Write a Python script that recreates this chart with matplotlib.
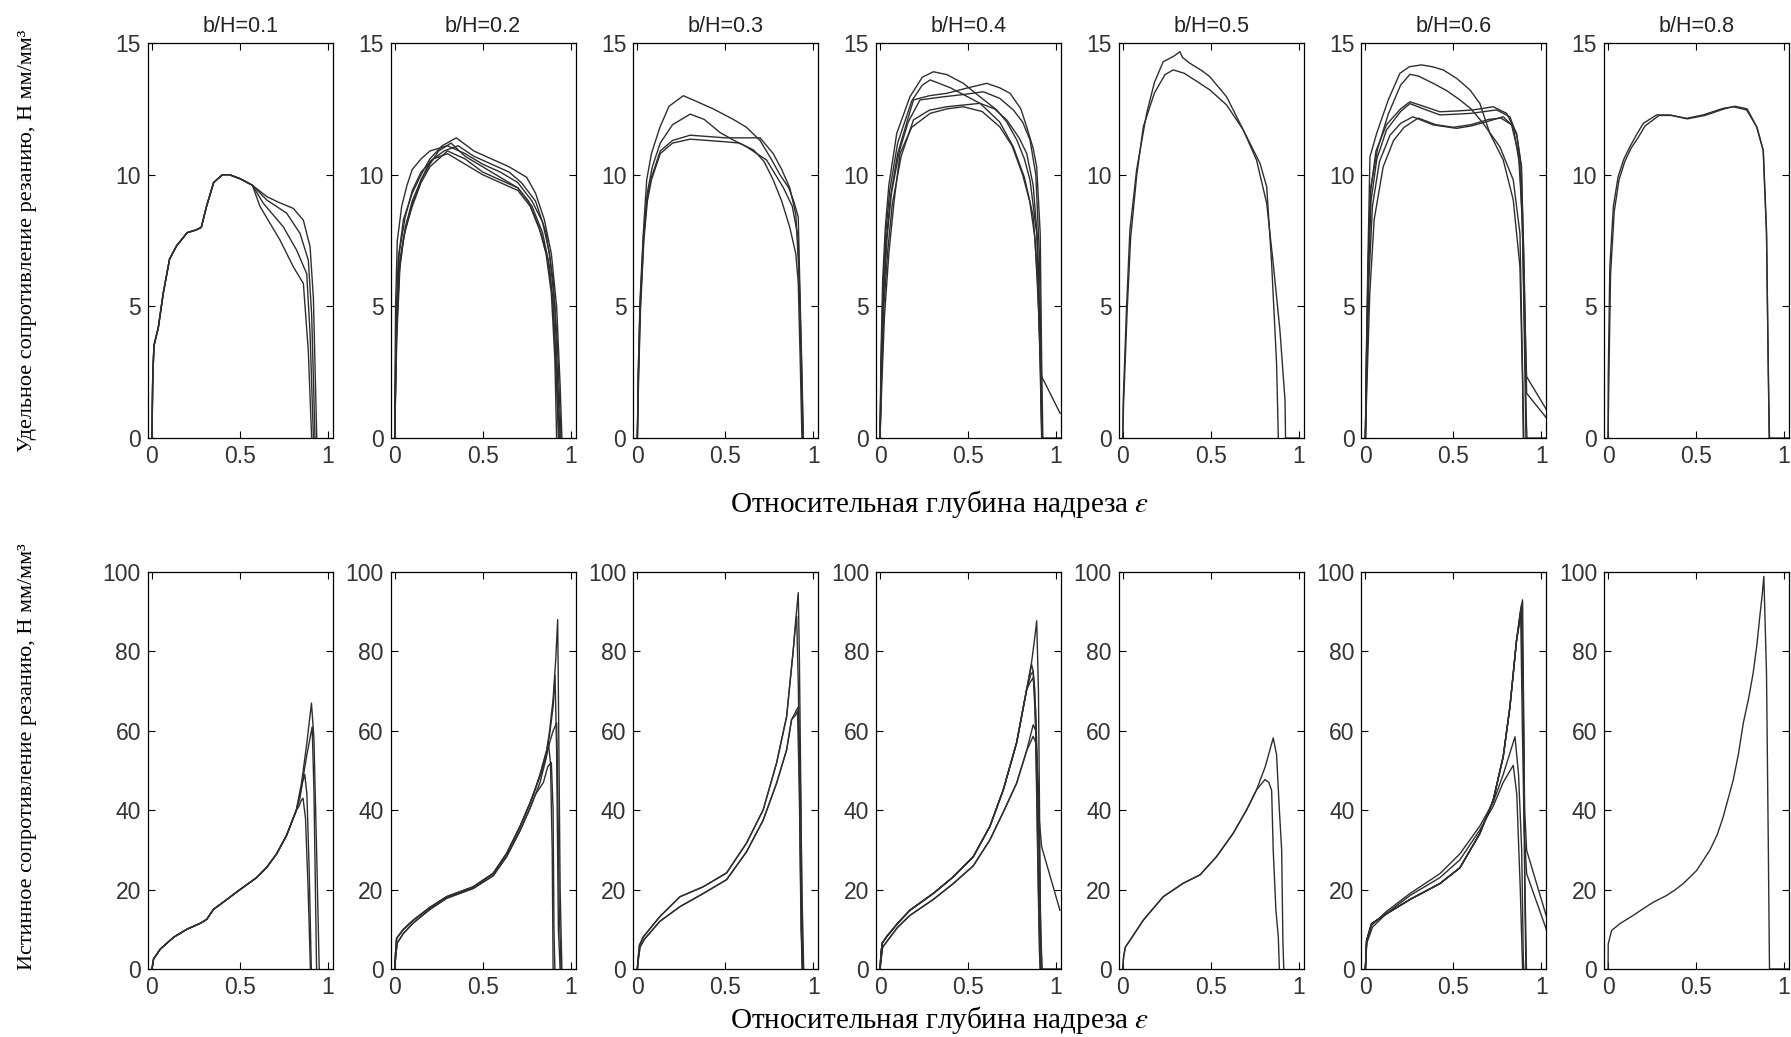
import matplotlib
matplotlib.use('Agg')
import matplotlib.pyplot as plt

plt.rcParams['font.family'] = ['Liberation Sans', 'DejaVu Sans']
plt.rcParams['mathtext.fontset'] = 'stix'

# panel titles (b/H ratios)
ratios = ['0.1', '0.2', '0.3', '0.4', '0.5', '0.6', '0.8']

# ---- top row: specific cutting resistance, each curve = (eps, value) ----
pre01_x = [0.0, 0.004, 0.011, 0.036, 0.064, 0.10, 0.14, 0.20, 0.25, 0.28, 0.31, 0.35, 0.40, 0.44, 0.50, 0.57]
pre01_y = [0.0, 2.2, 3.5, 4.2, 5.5, 6.8, 7.3, 7.8, 7.9, 8.0, 8.8, 9.7, 10.0, 10.0, 9.85, 9.6]
TOP_01 = [
    (pre01_x + [0.652, 0.72, 0.803, 0.86, 0.898, 0.917, 0.936], pre01_y + [9.17, 8.95, 8.72, 8.27, 7.27, 5.3, 0]),
    (pre01_x + [0.652, 0.765, 0.841, 0.888, 0.907, 0.926], pre01_y + [9.04, 8.54, 7.77, 6.76, 4.7, 0]),
    (pre01_x + [0.633, 0.746, 0.822, 0.879, 0.898, 0.917], pre01_y + [8.91, 8.02, 7.13, 6.24, 3.96, 0]),
    (pre01_x + [0.614, 0.727, 0.803, 0.86, 0.888, 0.907], pre01_y + [8.79, 7.52, 6.5, 5.87, 3.3, 0]),
]
TOP_02 = [
    ([0, 0.008, 0.02, 0.05, 0.1, 0.15, 0.2, 0.27, 0.35, 0.45, 0.55, 0.65, 0.75, 0.8, 0.85, 0.89, 0.92, 0.94, 0.95],
     [0, 4.5, 6.8, 8.3, 9.3, 10.0, 10.6, 11.1, 11.4, 10.9, 10.6, 10.3, 9.9, 9.3, 8.3, 7.0, 5.0, 2.0, 0]),
    ([0, 0.005, 0.015, 0.04, 0.07, 0.1, 0.15, 0.2, 0.3, 0.4, 0.5, 0.6, 0.7, 0.78, 0.84, 0.88, 0.91, 0.93, 0.94],
     [0, 5, 7.5, 8.8, 9.6, 10.2, 10.6, 10.9, 11.1, 10.8, 10.4, 10.1, 9.7, 9.0, 8.2, 7.0, 5.0, 1.5, 0]),
    ([0, 0.01, 0.02, 0.05, 0.1, 0.15, 0.2, 0.25, 0.32, 0.4, 0.5, 0.6, 0.7, 0.78, 0.84, 0.88, 0.9, 0.92, 0.93],
     [0, 3.5, 6.0, 7.6, 8.9, 9.8, 10.4, 10.9, 11.2, 10.7, 10.3, 9.9, 9.5, 8.8, 7.8, 6.5, 5.0, 2.0, 0]),
    ([0, 0.01, 0.03, 0.06, 0.1, 0.15, 0.2, 0.3, 0.4, 0.5, 0.6, 0.7, 0.76, 0.82, 0.86, 0.89, 0.91, 0.92],
     [0, 4.0, 6.8, 7.9, 8.8, 9.7, 10.3, 10.9, 10.6, 10.1, 9.8, 9.5, 9.0, 8.0, 7.0, 5.5, 3.0, 0]),
    ([0, 0.008, 0.025, 0.06, 0.1, 0.15, 0.22, 0.3, 0.4, 0.5, 0.6, 0.7, 0.77, 0.83, 0.87, 0.9, 0.92, 0.935],
     [0, 4.2, 7.0, 8.4, 9.4, 10.1, 10.6, 10.8, 10.4, 10.0, 9.7, 9.4, 8.8, 7.8, 6.8, 5.2, 2.5, 0]),
    ([0, 0.012, 0.03, 0.06, 0.1, 0.15, 0.2, 0.28, 0.36, 0.45, 0.55, 0.65, 0.72, 0.8, 0.86, 0.9, 0.925, 0.945],
     [0, 3.8, 6.5, 8.0, 9.0, 9.8, 10.5, 10.9, 11.1, 10.7, 10.4, 10.1, 9.7, 9.0, 7.8, 6.0, 3.5, 0]),
]
TOP_03 = [
    ([0, 0.005, 0.015, 0.034, 0.053, 0.08, 0.128, 0.18, 0.261, 0.33, 0.431, 0.545, 0.62, 0.697, 0.76, 0.81, 0.86, 0.888, 0.914, 0.925, 0.935, 0.943],
     [0, 2.5, 5.2, 7.8, 9.8, 10.8, 11.8, 12.6, 13.0, 12.8, 12.5, 12.1, 11.8, 11.3, 10.6, 10.0, 9.5, 9.0, 8.4, 5.2, 2.5, 0]),
    ([0, 0.006, 0.017, 0.036, 0.056, 0.085, 0.13, 0.2, 0.3, 0.38, 0.47, 0.55, 0.62, 0.734, 0.83, 0.88, 0.914, 0.925, 0.94],
     [0, 2.3, 5.0, 7.6, 9.3, 10.3, 11.2, 11.9, 12.3, 12.1, 11.6, 11.3, 11.06, 10.56, 9.5, 8.8, 7.6, 4.5, 0]),
    ([0, 0.005, 0.016, 0.035, 0.055, 0.08, 0.13, 0.2, 0.3, 0.4, 0.5, 0.6, 0.697, 0.772, 0.82, 0.866, 0.9, 0.92, 0.932, 0.942],
     [0, 2.4, 5.1, 7.7, 9.1, 9.9, 10.9, 11.3, 11.5, 11.45, 11.4, 11.4, 11.4, 10.8, 10.2, 9.5, 8.5, 6.0, 3.0, 0]),
    ([0, 0.007, 0.018, 0.037, 0.057, 0.08, 0.13, 0.2, 0.3, 0.4, 0.5, 0.58, 0.66, 0.72, 0.772, 0.82, 0.866, 0.9, 0.914, 0.925, 0.935],
     [0, 2.2, 4.9, 7.5, 9.0, 9.8, 10.8, 11.2, 11.35, 11.3, 11.25, 11.2, 10.94, 10.5, 9.8, 9.0, 8.0, 7.0, 5.9, 3.0, 0]),
]
TOP_04 = [
    ([0, 0.005, 0.015, 0.03, 0.05, 0.095, 0.17, 0.24, 0.303, 0.38, 0.473, 0.56, 0.663, 0.72, 0.777, 0.82, 0.852, 0.89, 0.905, 0.919],
     [0, 3, 6, 8, 9.6, 11.57, 12.96, 13.7, 13.91, 13.8, 13.47, 13.0, 12.46, 12.0, 11.32, 10.6, 9.8, 7.77, 4.0, 0]),
    ([0, 0.006, 0.017, 0.033, 0.055, 0.1, 0.18, 0.24, 0.285, 0.4, 0.568, 0.68, 0.757, 0.82, 0.871, 0.895, 0.91, 0.92],
     [0, 2.8, 5.7, 7.8, 9.4, 11.2, 12.8, 13.4, 13.6, 13.3, 12.71, 12.0, 11.06, 9.9, 8.4, 6.0, 3.0, 0]),
    ([0, 0.007, 0.02, 0.035, 0.06, 0.1, 0.19, 0.28, 0.379, 0.5, 0.606, 0.68, 0.739, 0.8, 0.833, 0.87, 0.89, 0.91, 0.918, 0.925],
     [0, 2.5, 5.5, 7.5, 9.2, 10.8, 12.84, 13.0, 13.09, 13.3, 13.47, 13.3, 13.09, 12.5, 11.82, 11.0, 10.3, 7.77, 3.0, 0]),
    ([0, 0.006, 0.02, 0.04, 0.065, 0.11, 0.16, 0.227, 0.35, 0.48, 0.587, 0.68, 0.757, 0.81, 0.852, 0.885, 0.905, 0.915, 0.92],
     [0, 2.4, 5.3, 7.6, 9.3, 10.9, 12.0, 12.84, 12.95, 13.05, 13.15, 12.9, 12.46, 12.0, 11.32, 10.0, 7.0, 3.0, 0]),
    ([0, 0.008, 0.022, 0.045, 0.07, 0.12, 0.19, 0.28, 0.379, 0.48, 0.568, 0.65, 0.72, 0.79, 0.833, 0.87, 0.895, 0.91, 0.918, 1.03],
     [0, 2.2, 5.0, 7.2, 8.9, 10.7, 12.08, 12.45, 12.58, 12.65, 12.71, 12.5, 12.08, 11.4, 10.81, 9.6, 7.5, 4.0, 0, 0]),
    ([0, 0.01, 0.025, 0.05, 0.08, 0.114, 0.18, 0.285, 0.38, 0.473, 0.58, 0.68, 0.75, 0.81, 0.85, 0.88, 0.9, 0.915, 0.919, 1.023],
     [0, 2.0, 4.6, 7.0, 9.0, 10.81, 11.8, 12.33, 12.5, 12.58, 12.4, 11.82, 11.1, 10.0, 9.0, 7.6, 5.0, 2.5, 2.33, 0.94]),
]
TOP_05 = [
    ([0, 0.003, 0.022, 0.041, 0.079, 0.136, 0.18, 0.23, 0.29, 0.325, 0.34, 0.382, 0.45, 0.495, 0.59, 0.685, 0.76, 0.818, 0.855, 0.893, 0.922, 0.925, 1.0],
     [0, 1.44, 4.99, 7.9, 10.18, 12.33, 13.5, 14.29, 14.5, 14.67, 14.45, 14.23, 13.95, 13.72, 12.96, 11.7, 10.56, 8.91, 6.63, 4.1, 1.44, 0, 0]),
    ([0, 0.005, 0.025, 0.045, 0.08, 0.117, 0.18, 0.24, 0.287, 0.35, 0.42, 0.495, 0.59, 0.685, 0.78, 0.818, 0.846, 0.874, 0.884],
     [0, 1.3, 4.8, 7.6, 10.0, 11.82, 13.1, 13.8, 13.98, 13.85, 13.55, 13.22, 12.65, 11.7, 10.43, 9.54, 6.63, 2.84, 0]),
]
TOP_06 = [
    ([0, 0.005, 0.015, 0.026, 0.064, 0.13, 0.196, 0.25, 0.319, 0.38, 0.442, 0.518, 0.594, 0.65, 0.707, 0.783, 0.84, 0.878, 0.893, 0.897],
     [0, 3, 7, 10.68, 11.57, 12.84, 13.85, 14.1, 14.17, 14.1, 13.98, 13.66, 13.22, 12.71, 11.57, 10.56, 9.04, 6.5, 2.08, 0]),
    ([0, 0.006, 0.016, 0.03, 0.07, 0.13, 0.2, 0.253, 0.3, 0.385, 0.46, 0.537, 0.6, 0.669, 0.764, 0.84, 0.878, 0.9],
     [0, 2.8, 6.5, 9.5, 11.0, 12.3, 13.4, 13.81, 13.75, 13.47, 13.2, 12.84, 12.5, 11.95, 11.06, 9.8, 7.77, 0]),
    ([0, 0.006, 0.015, 0.03, 0.06, 0.12, 0.2, 0.253, 0.33, 0.423, 0.52, 0.613, 0.726, 0.802, 0.859, 0.887, 0.9, 0.912, 0.916, 1.03],
     [0, 3, 6.5, 9.4, 10.9, 11.9, 12.5, 12.77, 12.6, 12.39, 12.42, 12.46, 12.58, 12.33, 11.57, 10.3, 6.5, 3.0, 2.33, 1.06]),
    ([0, 0.007, 0.017, 0.032, 0.065, 0.12, 0.2, 0.253, 0.33, 0.423, 0.52, 0.6, 0.745, 0.821, 0.86, 0.885, 0.9, 0.912, 0.916, 1.03],
     [0, 2.8, 6.2, 9.0, 10.6, 11.7, 12.4, 12.7, 12.5, 12.27, 12.3, 12.33, 12.46, 12.2, 11.5, 10.3, 7.0, 3.0, 1.7, 0.75]),
    ([0, 0.008, 0.02, 0.04, 0.08, 0.14, 0.2, 0.27, 0.385, 0.518, 0.6, 0.688, 0.783, 0.84, 0.878, 0.893, 0.905, 0.912],
     [0, 2.6, 6.0, 8.8, 10.5, 11.5, 11.95, 12.2, 11.89, 11.76, 11.85, 12.01, 12.2, 11.82, 10.3, 7.77, 3.0, 0]),
    ([0, 0.01, 0.025, 0.05, 0.101, 0.16, 0.22, 0.3, 0.4, 0.5, 0.6, 0.7, 0.77, 0.83, 0.87, 0.89, 0.905, 0.915, 0.918, 1.03],
     [0, 2.3, 5.5, 8.3, 10.3, 11.3, 11.8, 12.15, 11.9, 11.8, 11.9, 12.1, 12.15, 11.9, 10.8, 8.5, 4.0, 0.5, 0, 0]),
]
TOP_08 = [
    ([0, 0.001, 0.01, 0.03, 0.057, 0.09, 0.124, 0.16, 0.2, 0.276, 0.351, 0.446, 0.54, 0.654, 0.711, 0.787, 0.844, 0.881, 0.9, 0.91, 0.917, 1.03],
     [0, 2.33, 6.5, 8.79, 9.92, 10.6, 11.06, 11.5, 11.95, 12.27, 12.27, 12.14, 12.27, 12.52, 12.58, 12.46, 11.82, 10.94, 7.77, 2.6, 0, 0]),
    ([0, 0.004, 0.014, 0.035, 0.062, 0.095, 0.13, 0.17, 0.21, 0.29, 0.36, 0.45, 0.55, 0.66, 0.72, 0.79, 0.846, 0.882, 0.9, 0.91, 0.915],
     [0, 2.0, 6.2, 8.6, 9.8, 10.5, 11.0, 11.4, 11.85, 12.25, 12.25, 12.12, 12.25, 12.5, 12.6, 12.5, 11.8, 10.9, 7.9, 2.8, 0]),
]

# ---- bottom row: true cutting resistance ----
pre11_x = [0, 0.009, 0.047, 0.123, 0.198, 0.274, 0.311, 0.349, 0.425, 0.5, 0.594, 0.652, 0.708, 0.764, 0.82]
pre11_y = [0, 2.5, 5.0, 8.0, 10.0, 11.5, 12.5, 15.0, 17.5, 20.0, 23.0, 25.6, 29.0, 33.6, 40.0]
BOT_01 = [
    (pre11_x + [0.85, 0.88, 0.906, 0.92, 0.935, 0.95], pre11_y + [47, 57, 67, 58, 30, 0]),
    (pre11_x + [0.85, 0.88, 0.91, 0.92, 0.935], pre11_y + [46, 54, 61, 45, 0]),
    (pre11_x + [0.84, 0.855, 0.868, 0.88, 0.893, 0.905], pre11_y + [43, 47, 49, 44, 25, 0]),
    (pre11_x + [0.835, 0.848, 0.858, 0.872, 0.887, 0.9], pre11_y + [41, 42.5, 43, 38, 20, 0]),
]
pre12a_x = [0, 0.005, 0.011, 0.05, 0.106, 0.2, 0.295, 0.447, 0.56, 0.636, 0.712, 0.769, 0.8]
pre12a_y = [0, 4.0, 7.7, 10.0, 12.3, 15.5, 18.2, 20.7, 24.1, 29.1, 35.9, 41.8, 45.5]
pre12b_x = [0, 0.006, 0.014, 0.05, 0.106, 0.2, 0.295, 0.447, 0.56, 0.636, 0.712, 0.769, 0.8]
pre12b_y = [0, 3.0, 6.5, 9.0, 11.6, 15.0, 17.8, 20.3, 23.5, 28.3, 34.8, 40.5, 44.0]
BOT_02 = [
    (pre12a_x + [0.826, 0.864, 0.88, 0.9, 0.915, 0.926, 0.93, 0.94, 0.95], pre12a_y + [49, 55.2, 60, 68, 78, 88, 70, 20, 0]),
    (pre12a_x + [0.826, 0.864, 0.88, 0.9, 0.911, 0.92, 0.93, 0.94], pre12a_y + [49, 55, 59, 66, 74, 55, 10, 0]),
    (pre12a_x + [0.826, 0.864, 0.88, 0.9, 0.92, 0.925, 0.935, 0.945], pre12a_y + [48.5, 54, 57, 60, 62, 50, 15, 0]),
    (pre12b_x + [0.826, 0.86, 0.873, 0.885, 0.895, 0.9], pre12b_y + [47, 53, 57, 52, 30, 0]),
    (pre12b_x + [0.845, 0.87, 0.89, 0.9, 0.905, 0.91], pre12b_y + [47, 51, 52, 40, 10, 0]),
]
pre13a_x = [0, 0.005, 0.012, 0.034, 0.128, 0.242, 0.374, 0.507, 0.62, 0.715, 0.791, 0.848, 0.886]
pre13a_y = [0, 3.0, 6.0, 8.1, 13.2, 18.2, 20.7, 24.2, 31.7, 40.1, 51.9, 63.6, 80.5]
pre13b_x = [0, 0.006, 0.015, 0.04, 0.128, 0.242, 0.374, 0.507, 0.62, 0.715, 0.791, 0.848, 0.876]
pre13b_y = [0, 2.5, 5.5, 7.5, 12.0, 15.7, 19.0, 22.5, 29.5, 37.5, 46.8, 55.2, 62.8]
BOT_03 = [
    (pre13a_x + [0.9, 0.914, 0.92, 0.93, 0.935, 0.94], pre13a_y + [88, 94.8, 80, 40, 15, 0]),
    (pre13a_x + [0.895, 0.905, 0.915, 0.925, 0.935], pre13a_y + [85, 88.9, 70, 30, 0]),
    (pre13b_x + [0.905, 0.915, 0.925, 0.935, 0.945], pre13b_y + [65.3, 66, 50, 20, 0]),
    (pre13b_x + [0.9, 0.91, 0.92, 0.93, 0.94], pre13b_y + [64, 65, 45, 10, 0]),
]
pre14a_x = [0, 0.005, 0.012, 0.037, 0.1, 0.17, 0.302, 0.416, 0.53, 0.624, 0.7, 0.776, 0.833]
pre14a_y = [0, 3.5, 6.5, 8.1, 11.5, 14.8, 19.0, 23.2, 28.3, 35.9, 45.1, 57.0, 70.4]
pre14b_x = [0, 0.006, 0.015, 0.04, 0.1, 0.17, 0.302, 0.416, 0.53, 0.624, 0.7, 0.776, 0.833]
pre14b_y = [0, 2.5, 5.5, 7.0, 10.5, 13.5, 17.5, 21.5, 26.0, 32.5, 39.5, 46.8, 55.0]
BOT_04 = [
    (pre14a_x + [0.86, 0.875, 0.89, 0.9, 0.91, 0.915], pre14a_y + [77, 82, 87.7, 70, 20, 0]),
    (pre14a_x + [0.861, 0.87, 0.885, 0.9, 0.91], pre14a_y + [76.7, 75, 60, 20, 0]),
    (pre14a_x + [0.85, 0.87, 0.885, 0.9, 0.918, 1.022], pre14a_y + [72, 73.4, 65, 40, 30.8, 14.8]),
    (pre14a_x + [0.855, 0.87, 0.88, 0.895, 0.905, 0.91, 1.03], pre14a_y + [74, 75, 70, 30, 5, 0, 0]),
    (pre14b_x + [0.87, 0.885, 0.9, 0.91, 0.92], pre14b_y + [61.5, 60, 45, 15, 0]),
    (pre14b_x + [0.87, 0.885, 0.9, 0.91, 0.92], pre14b_y + [58.6, 57, 40, 10, 0]),
]
pre15_x = [0, 0.005, 0.015, 0.041, 0.117, 0.23, 0.344, 0.439, 0.533, 0.628, 0.704, 0.76]
pre15_y = [0, 3.0, 5.5, 7.2, 12.3, 18.2, 21.6, 23.7, 28.3, 34.2, 40.1, 45.1]
BOT_05 = [
    (pre15_x + [0.81, 0.855, 0.874, 0.89, 0.903, 0.91, 0.915], pre15_y + [51, 58.2, 54, 40, 30, 7, 0]),
    (pre15_x + [0.808, 0.83, 0.846, 0.855, 0.87, 0.884, 0.89], pre15_y + [47.7, 47, 45, 30, 15, 8, 0]),
]
pre16_x = [0, 0.007, 0.035, 0.12, 0.253, 0.423, 0.537, 0.65, 0.726, 0.783, 0.821, 0.859]
pre16_y = [0, 7.2, 11.4, 13.9, 17.5, 21.5, 25.5, 34.1, 42.5, 53.5, 66.0, 82.9]
BOT_06 = [
    (pre16_x + [0.88, 0.893, 0.9, 0.905, 0.912], pre16_y + [90, 93, 60, 20, 0]),
    (pre16_x + [0.875, 0.888, 0.897, 0.905, 0.915], pre16_y + [88, 92, 70, 25, 0]),
    (pre16_x + [0.875, 0.885, 0.895, 0.905, 0.916, 1.03], pre16_y + [87, 91, 70, 40, 29.9, 13]),
    (pre16_x + [0.87, 0.882, 0.892, 0.902, 0.916, 1.03], pre16_y + [86, 90, 60, 35, 24, 9.7]),
    ([0, 0.007, 0.035, 0.12, 0.253, 0.423, 0.537, 0.65, 0.726, 0.783, 0.85, 0.87, 0.888, 0.897, 0.9],
     [0, 7.0, 11.0, 14.5, 19.0, 24.0, 29.0, 36.0, 42.0, 49.0, 58.5, 49.0, 29.9, 3.0, 0]),
    ([0, 0.008, 0.04, 0.12, 0.253, 0.423, 0.537, 0.65, 0.726, 0.783, 0.84, 0.86, 0.88, 0.893],
     [0, 6.5, 10.5, 14.0, 18.5, 23.0, 27.5, 35.0, 41.0, 47.0, 51.3, 44.0, 20.0, 0]),
]
BOT_08 = [
    ([0, 0.001, 0.02, 0.067, 0.143, 0.2, 0.256, 0.332, 0.38, 0.427, 0.503, 0.578, 0.62, 0.654, 0.711, 0.74, 0.768, 0.8, 0.824, 0.845, 0.862, 0.875, 0.885, 0.9, 0.91, 0.917, 1.03],
     [0, 6.3, 9.7, 11.4, 13.5, 15.2, 16.8, 18.5, 19.9, 21.5, 24.8, 29.9, 33.8, 38.3, 47.6, 54.0, 61.9, 68.5, 74.5, 81.5, 88.8, 94.0, 98.9, 74.5, 32.4, 0, 0]),
]

top_panels = [TOP_01, TOP_02, TOP_03, TOP_04, TOP_05, TOP_06, TOP_08]
bot_panels = [BOT_01, BOT_02, BOT_03, BOT_04, BOT_05, BOT_06, BOT_08]

line_col = '#2e2e2e'

fig = plt.figure(figsize=(17.91, 10.37), dpi=100)


def style_axes(ax, ymax, yticks):
    ax.set_xlim(-0.023, 1.028)
    ax.set_ylim(0, ymax)
    ax.set_xticks([0, 0.5, 1])
    ax.set_xticklabels(['0', '0.5', '1'])
    ax.set_yticks(yticks)
    ax.set_yticklabels([str(t) for t in yticks])
    ax.tick_params(direction='in', top=True, right=True, length=5, width=0.8,
                   labelsize=16.5, pad=5, labelcolor='#333333')
    for sp in ax.spines.values():
        sp.set_linewidth(0.9)


for i in range(7):
    left = 0.0826 + i * 0.1355
    ax = fig.add_axes([left, 0.5776, 0.1033, 0.3809])
    for xs, ys in top_panels[i]:
        ax.plot(xs, ys, color=line_col, lw=1.0)
    style_axes(ax, 15, [0, 5, 10, 15])
    ax.set_title('b/H=' + ratios[i], fontsize=15.5, pad=8, color='#222222')

    ax2 = fig.add_axes([left, 0.0656, 0.1033, 0.3828])
    for xs, ys in bot_panels[i]:
        ax2.plot(xs, ys, color=line_col, lw=1.0)
    style_axes(ax2, 100, [0, 20, 40, 60, 80, 100])

serif = 'Liberation Serif'
fig.text(0.0156, 0.768, 'Удельное сопротивление резанию, Н мм/мм³', rotation=90,
         ha='center', va='center', family=serif, fontsize=16)
fig.text(0.0151, 0.27, 'Истинное сопротивление резанию, Н мм/мм³', rotation=90,
         ha='center', va='center', family=serif, fontsize=16)
fig.text(0.5246, 0.514, 'Относительная глубина надреза $\\varepsilon$',
         ha='center', va='center', family=serif, fontsize=21)
fig.text(0.5246, 0.0164, 'Относительная глубина надреза $\\varepsilon$',
         ha='center', va='center', family=serif, fontsize=21)

fig.savefig('out.png', dpi=100)
